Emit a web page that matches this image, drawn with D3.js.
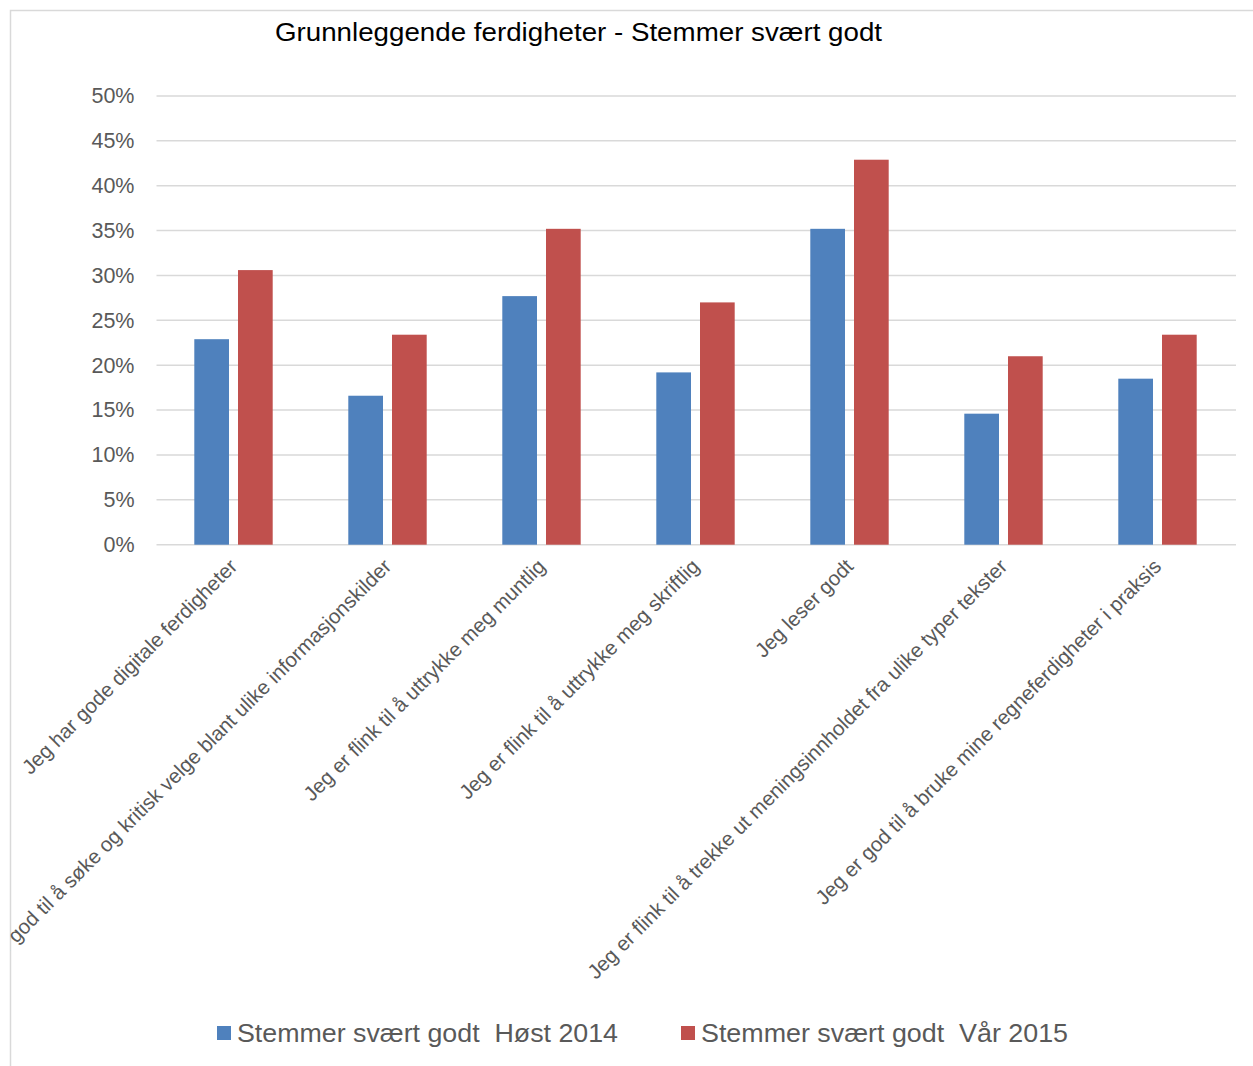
<!DOCTYPE html>
<html>
<head>
<meta charset="utf-8">
<script src="https://cdn.jsdelivr.net/npm/d3@7"></script>
<style>
  body { margin: 0; background: #fff; }
  svg { display: block; font-family: "Liberation Sans", Arial, sans-serif; }
</style>
</head>
<body>
<div id="chart"></div>
<script>
"use strict"

/* DATA
 */
const categories = [
    "Jeg har gode digitale ferdigheter",
    "Jeg er god til å søke og kritisk velge blant ulike informasjonskilder",
    "Jeg er flink til å uttrykke meg muntlig",
    "Jeg er flink til å uttrykke meg skriftlig",
    "Jeg leser godt",
    "Jeg er flink til å trekke ut meningsinnholdet fra ulike typer tekster",
    "Jeg er god til å bruke mine regneferdigheter i praksis"
];
const seriesNames = ["Stemmer svært godt  Høst 2014", "Stemmer svært godt  Vår 2015"];
const host2014 = [0.229, 0.166, 0.277, 0.192, 0.352, 0.146, 0.185];
const var2015 = [0.306, 0.234, 0.352, 0.270, 0.429, 0.210, 0.234];
const yTicks = [0, 0.05, 0.10, 0.15, 0.20, 0.25, 0.30, 0.35, 0.40, 0.45, 0.50];
const title = "Grunnleggende ferdigheter - Stemmer svært godt";
const colors = ["#4F81BD", "#C0504D"];

/* LAYOUT
 */
const W = 1253, H = 1066;
const plot = { left: 156.5, right: 1234.5, top: 96, bottom: 544.7 };

const svg = d3.select("#chart").append("svg")
    .attr("width", W)
    .attr("height", H);

svg.append("defs").append("clipPath").attr("id", "area")
    .append("rect").attr("x", 10).attr("y", 10).attr("width", W).attr("height", H);

// chart border
svg.append("rect")
    .attr("x", 10.5).attr("y", 10.5)
    .attr("width", W + 10).attr("height", H + 10)
    .attr("fill", "none")
    .attr("stroke", "#d9d9d9")
    .attr("stroke-width", 1.5);

const x0 = d3.scaleBand()
    .domain(categories)
    .range([plot.left, plot.right])
    .padding(0);

const x1 = d3.scaleBand()
    .domain(seriesNames)
    .range([0, x0.bandwidth()])
    .paddingInner(0.206)
    .paddingOuter(0.865);

const y = d3.scaleLinear()
    .domain([0, 0.5])
    .range([plot.bottom, plot.top]);

// gridlines
svg.append("g")
    .selectAll("line")
    .data(yTicks)
    .enter().append("line")
    .attr("x1", plot.left)
    .attr("x2", plot.right + 1.5)
    .attr("y1", (d) => y(d))
    .attr("y2", (d) => y(d))
    .attr("stroke", "#d9d9d9")
    .attr("stroke-width", 1.5);

// y axis labels
const yAxis = svg.append("g")
    .attr("transform", `translate(${plot.left},0)`)
    .call(d3.axisLeft(y).tickValues(yTicks)
        .tickFormat(d3.format(".0%")).tickSize(0).tickPadding(22));
yAxis.select(".domain").remove();
yAxis.selectAll("text")
    .attr("font-family", "Liberation Sans, Arial, sans-serif")
    .attr("font-size", 21.5)
    .attr("fill", "#595959");

// bars
const rows = categories.map((c, i) => ({ cat: c, values: [host2014[i], var2015[i]] }));

const group = svg.append("g").selectAll("g")
    .data(rows)
    .enter().append("g")
    .attr("transform", (d) => `translate(${x0(d.cat)},0)`);

group.selectAll("rect")
    .data((d) => d.values.map((v, j) => ({ s: seriesNames[j], v: v, j: j })))
    .enter().append("rect")
    .attr("x", (d) => x1(d.s))
    .attr("width", x1.bandwidth())
    .attr("y", (d) => y(d.v))
    .attr("height", (d) => y(0) - y(d.v))
    .attr("fill", (d) => colors[d.j]);

// category labels, rotated
svg.append("g")
    .attr("clip-path", "url(#area)")
    .selectAll("text")
    .data(categories)
    .enter().append("text")
    .attr("transform", (d) =>
        `translate(${x0(d) + x0.bandwidth() / 2 + 5},${plot.bottom + 23}) rotate(-45)`)
    .attr("text-anchor", "end")
    .attr("font-size", 20.5)
    .attr("fill", "#595959")
    .text((d) => d);

// title
svg.append("text")
    .attr("x", 578.5)
    .attr("y", 41)
    .attr("text-anchor", "middle")
    .attr("font-size", 25)
    .attr("fill", "#000")
    .attr("textLength", 607)
    .attr("lengthAdjust", "spacingAndGlyphs")
    .text(title);

// legend
const legendX = [217, 681];
const legend = svg.append("g").selectAll("g")
    .data(seriesNames)
    .enter().append("g")
    .attr("transform", (d, i) => `translate(${legendX[i]},1026)`);

legend.append("rect")
    .attr("width", 14)
    .attr("height", 14)
    .attr("fill", (d, i) => colors[i]);

legend.append("text")
    .attr("x", 20)
    .attr("y", 16)
    .attr("font-size", 26)
    .attr("fill", "#595959")
    .style("white-space", "pre")
    .attr("textLength", (d, i) => i == 0 ? 381 : 367)
    .attr("lengthAdjust", "spacingAndGlyphs")
    .text((d) => d);
</script>
</body>
</html>
